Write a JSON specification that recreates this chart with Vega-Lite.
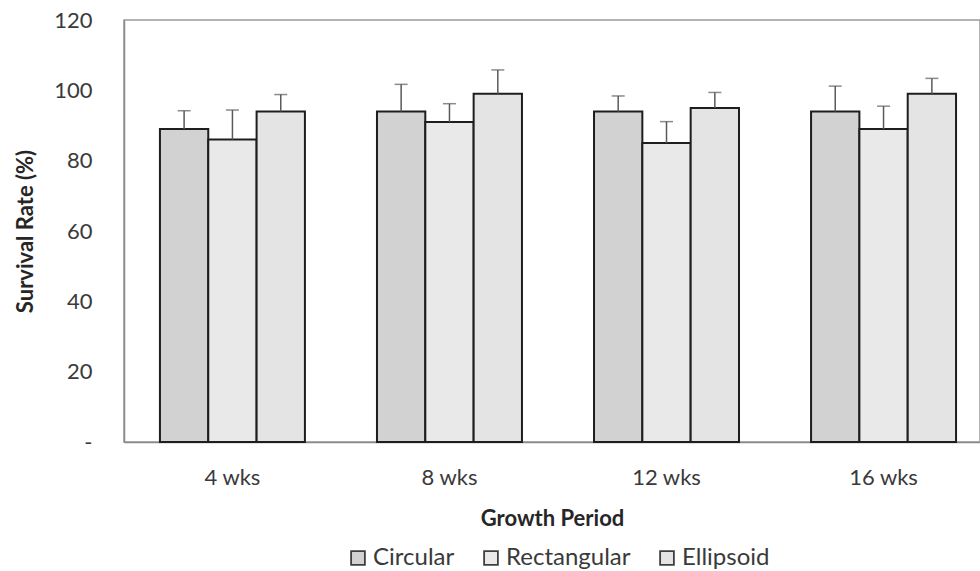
{
  "$schema": "https://vega.github.io/schema/vega-lite/v6.json",
  "width": 856,
  "height": 422,
  "autosize": {"type": "none"},
  "padding": {"left": 124, "top": 20, "right": 0, "bottom": 129},
  "background": "white",
  "config": {
    "font": "Lato",
    "view": {"stroke": "#9a9a9a", "strokeWidth": 1.5},
    "axis": {"domainColor": "#8a8a8a", "domainWidth": 1.5, "grid": false, "labelColor": "#3a3a3a", "labelFontSize": 22, "titleFontSize": 22, "titleColor": "#262626", "titleFontWeight": "bold"}
  },
  "data": {
    "values": [
      {"period": "4 wks", "shape": "Circular", "value": 89, "hi": 94.2},
      {"period": "4 wks", "shape": "Rectangular", "value": 86, "hi": 94.4},
      {"period": "4 wks", "shape": "Ellipsoid", "value": 94, "hi": 98.8},
      {"period": "8 wks", "shape": "Circular", "value": 94, "hi": 101.7},
      {"period": "8 wks", "shape": "Rectangular", "value": 91, "hi": 96.2},
      {"period": "8 wks", "shape": "Ellipsoid", "value": 99, "hi": 105.8},
      {"period": "12 wks", "shape": "Circular", "value": 94, "hi": 98.4},
      {"period": "12 wks", "shape": "Rectangular", "value": 85, "hi": 91.1},
      {"period": "12 wks", "shape": "Ellipsoid", "value": 95, "hi": 99.4},
      {"period": "16 wks", "shape": "Circular", "value": 94, "hi": 101.2},
      {"period": "16 wks", "shape": "Rectangular", "value": 89, "hi": 95.5},
      {"period": "16 wks", "shape": "Ellipsoid", "value": 99, "hi": 103.4}
    ]
  },
  "encoding": {
    "x": {
      "field": "period", "type": "nominal", "sort": ["4 wks", "8 wks", "12 wks", "16 wks"],
      "scale": {"paddingInner": 0.332, "paddingOuter": 0.138, "align": 0.6},
      "axis": {"title": "Growth Period", "labelAngle": 0, "ticks": false, "labelPadding": 25, "titlePadding": 20}
    },
    "xOffset": {"field": "shape", "type": "nominal", "sort": ["Circular", "Rectangular", "Ellipsoid"], "scale": {"paddingInner": 0, "paddingOuter": 0}}
  },
  "layer": [
    {
      "mark": {"type": "bar", "stroke": "#1e1e1e", "strokeWidth": 2},
      "encoding": {
        "y": {
          "field": "value", "type": "quantitative",
          "scale": {"domain": [0, 120]},
          "axis": {"title": "Survival Rate (%)", "values": [0, 20, 40, 60, 80, 100, 120], "ticks": false, "labelPadding": 32, "titlePadding": 16,
                   "labelExpr": "datum.value == 0 ? '-' : datum.label"}
        },
        "color": {
          "field": "shape", "type": "nominal", "sort": ["Circular", "Rectangular", "Ellipsoid"],
          "scale": {"domain": ["Circular", "Rectangular", "Ellipsoid"], "range": ["#d2d2d2", "#e9e9e9", "#e4e4e4"]},
          "legend": {"title": null, "orient": "none", "legendX": 222, "legendY": 526, "direction": "horizontal", "padding": 0,
                     "symbolType": "square", "symbolSize": 190,
                     "symbolStrokeColor": "#404040", "symbolStrokeWidth": 1.8, "symbolOpacity": 1, "labelFontSize": 24, "labelColor": "#3a3a3a",
                     "columnPadding": 24, "labelOffset": 3}
        }
      }
    },
    {
      "mark": {"type": "rule", "color": "#5a5a5a", "strokeWidth": 1.5},
      "encoding": {"y": {"field": "value", "type": "quantitative"}, "y2": {"field": "hi"}}
    },
    {
      "mark": {"type": "tick", "color": "#5a5a5a", "thickness": 1.5, "size": 13, "orient": "horizontal"},
      "encoding": {"y": {"field": "hi", "type": "quantitative"}}
    }
  ]
}
